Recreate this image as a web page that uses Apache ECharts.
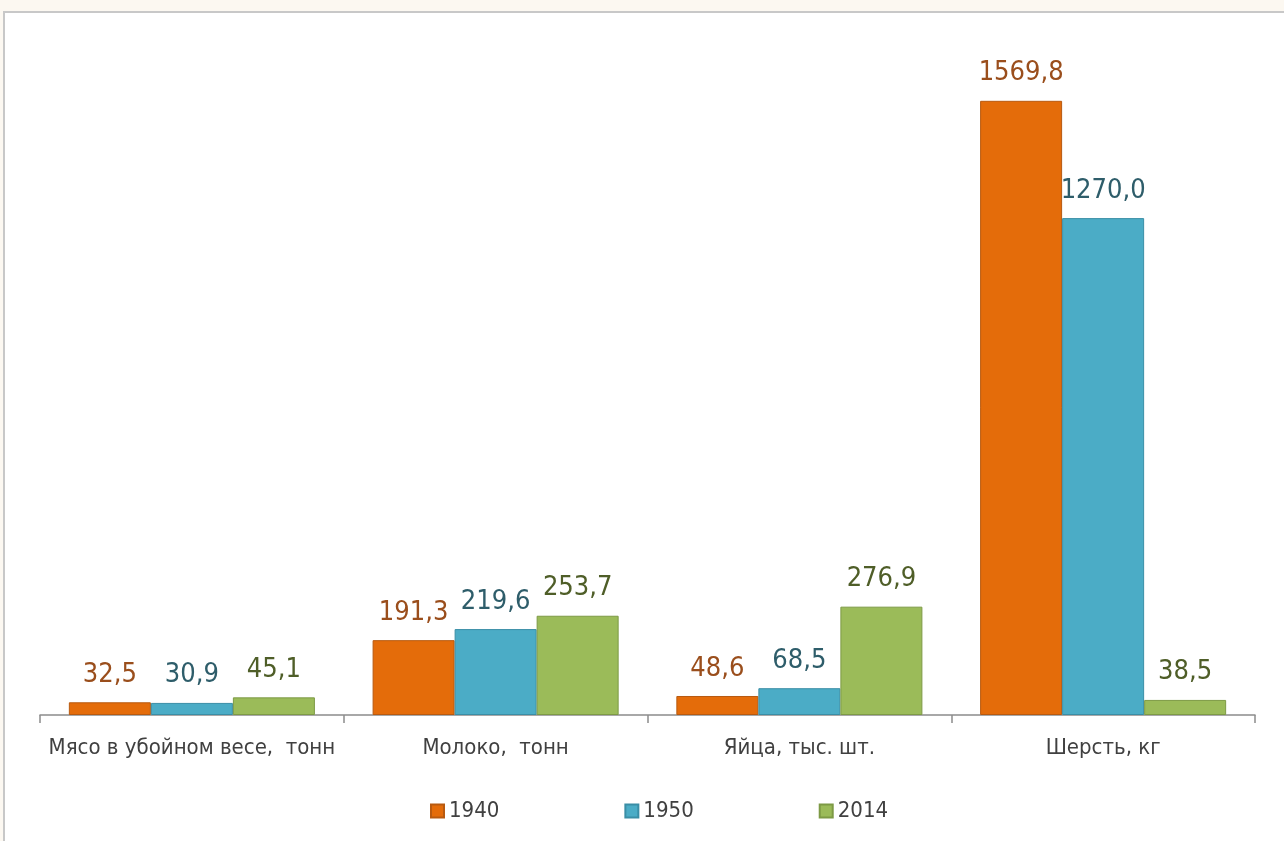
<!DOCTYPE html>
<html><head><meta charset="utf-8">
<script src="https://cdn.jsdelivr.net/npm/echarts@6/dist/echarts.min.js"></script>
<style>html,body{margin:0;padding:0;background:#fcf8f1;}#c{width:1284px;height:841px;}</style>
</head><body><div id="c"></div>
<script>
const categories = ['Мясо в убойном весе,  тонн', 'Молоко,  тонн', 'Яйца, тыс. шт.', 'Шерсть, кг'];
const years = ['1940', '1950', '2014'];
const s1940 = [32.5, 191.3, 48.6, 1569.8];
const s1950 = [30.9, 219.6, 68.5, 1270.0];
const s2014 = [45.1, 253.7, 276.9, 38.5];

const FONT = '"DejaVu Sans Condensed", "Liberation Sans Narrow", sans-serif';
const barColors = ['#e46c0a', '#4bacc6', '#9bbb59'];
const borderColors = ['#b85a10', '#3a8ea6', '#7d9a45'];
const labelColors = ['#9a4e1c', '#2e5d6a', '#4f5e28'];
const data = [s1940, s1950, s2014];

const chart = echarts.init(document.getElementById('c'));
chart.setOption({
  backgroundColor: '#fcf8f1',
  graphic: [{
    type: 'rect', z: -10, silent: true,
    shape: { x: 4, y: 12, width: 1300, height: 860 },
    style: { fill: '#ffffff', stroke: '#c8c8c8', lineWidth: 2 }
  }],
  grid: { left: 40, right: 29, top: 89, bottom: 126 },
  legend: {
    bottom: 14, left: 425,
    data: years,
    itemWidth: 13, itemHeight: 13, itemGap: 125,
    icon: 'rect',
    textStyle: { fontFamily: FONT, fontSize: 22, color: '#404040' }
  },
  xAxis: {
    type: 'category', data: categories,
    axisLine: { lineStyle: { color: '#8c8c8c', width: 1.5 } },
    axisTick: { show: true, alignWithLabel: false, length: 8, lineStyle: { color: '#8c8c8c', width: 1.5 } },
    axisLabel: { interval: 0, fontFamily: FONT, fontSize: 22, color: '#404040', margin: 22 }
  },
  yAxis: { type: 'value', min: 0, max: 1600, show: false, splitLine: { show: false } },
  series: years.map((y, i) => ({
    name: y, type: 'bar', data: data[i],
    barGap: '0%', barCategoryGap: '19%',
    itemStyle: { color: barColors[i], borderColor: borderColors[i], borderWidth: 1 },
    label: {
      show: true, position: 'top', distance: 14,
      fontFamily: FONT, fontSize: 27, color: labelColors[i],
      formatter: p => p.value.toFixed(1).replace('.', ',')
    }
  }))
});
</script></body></html>
